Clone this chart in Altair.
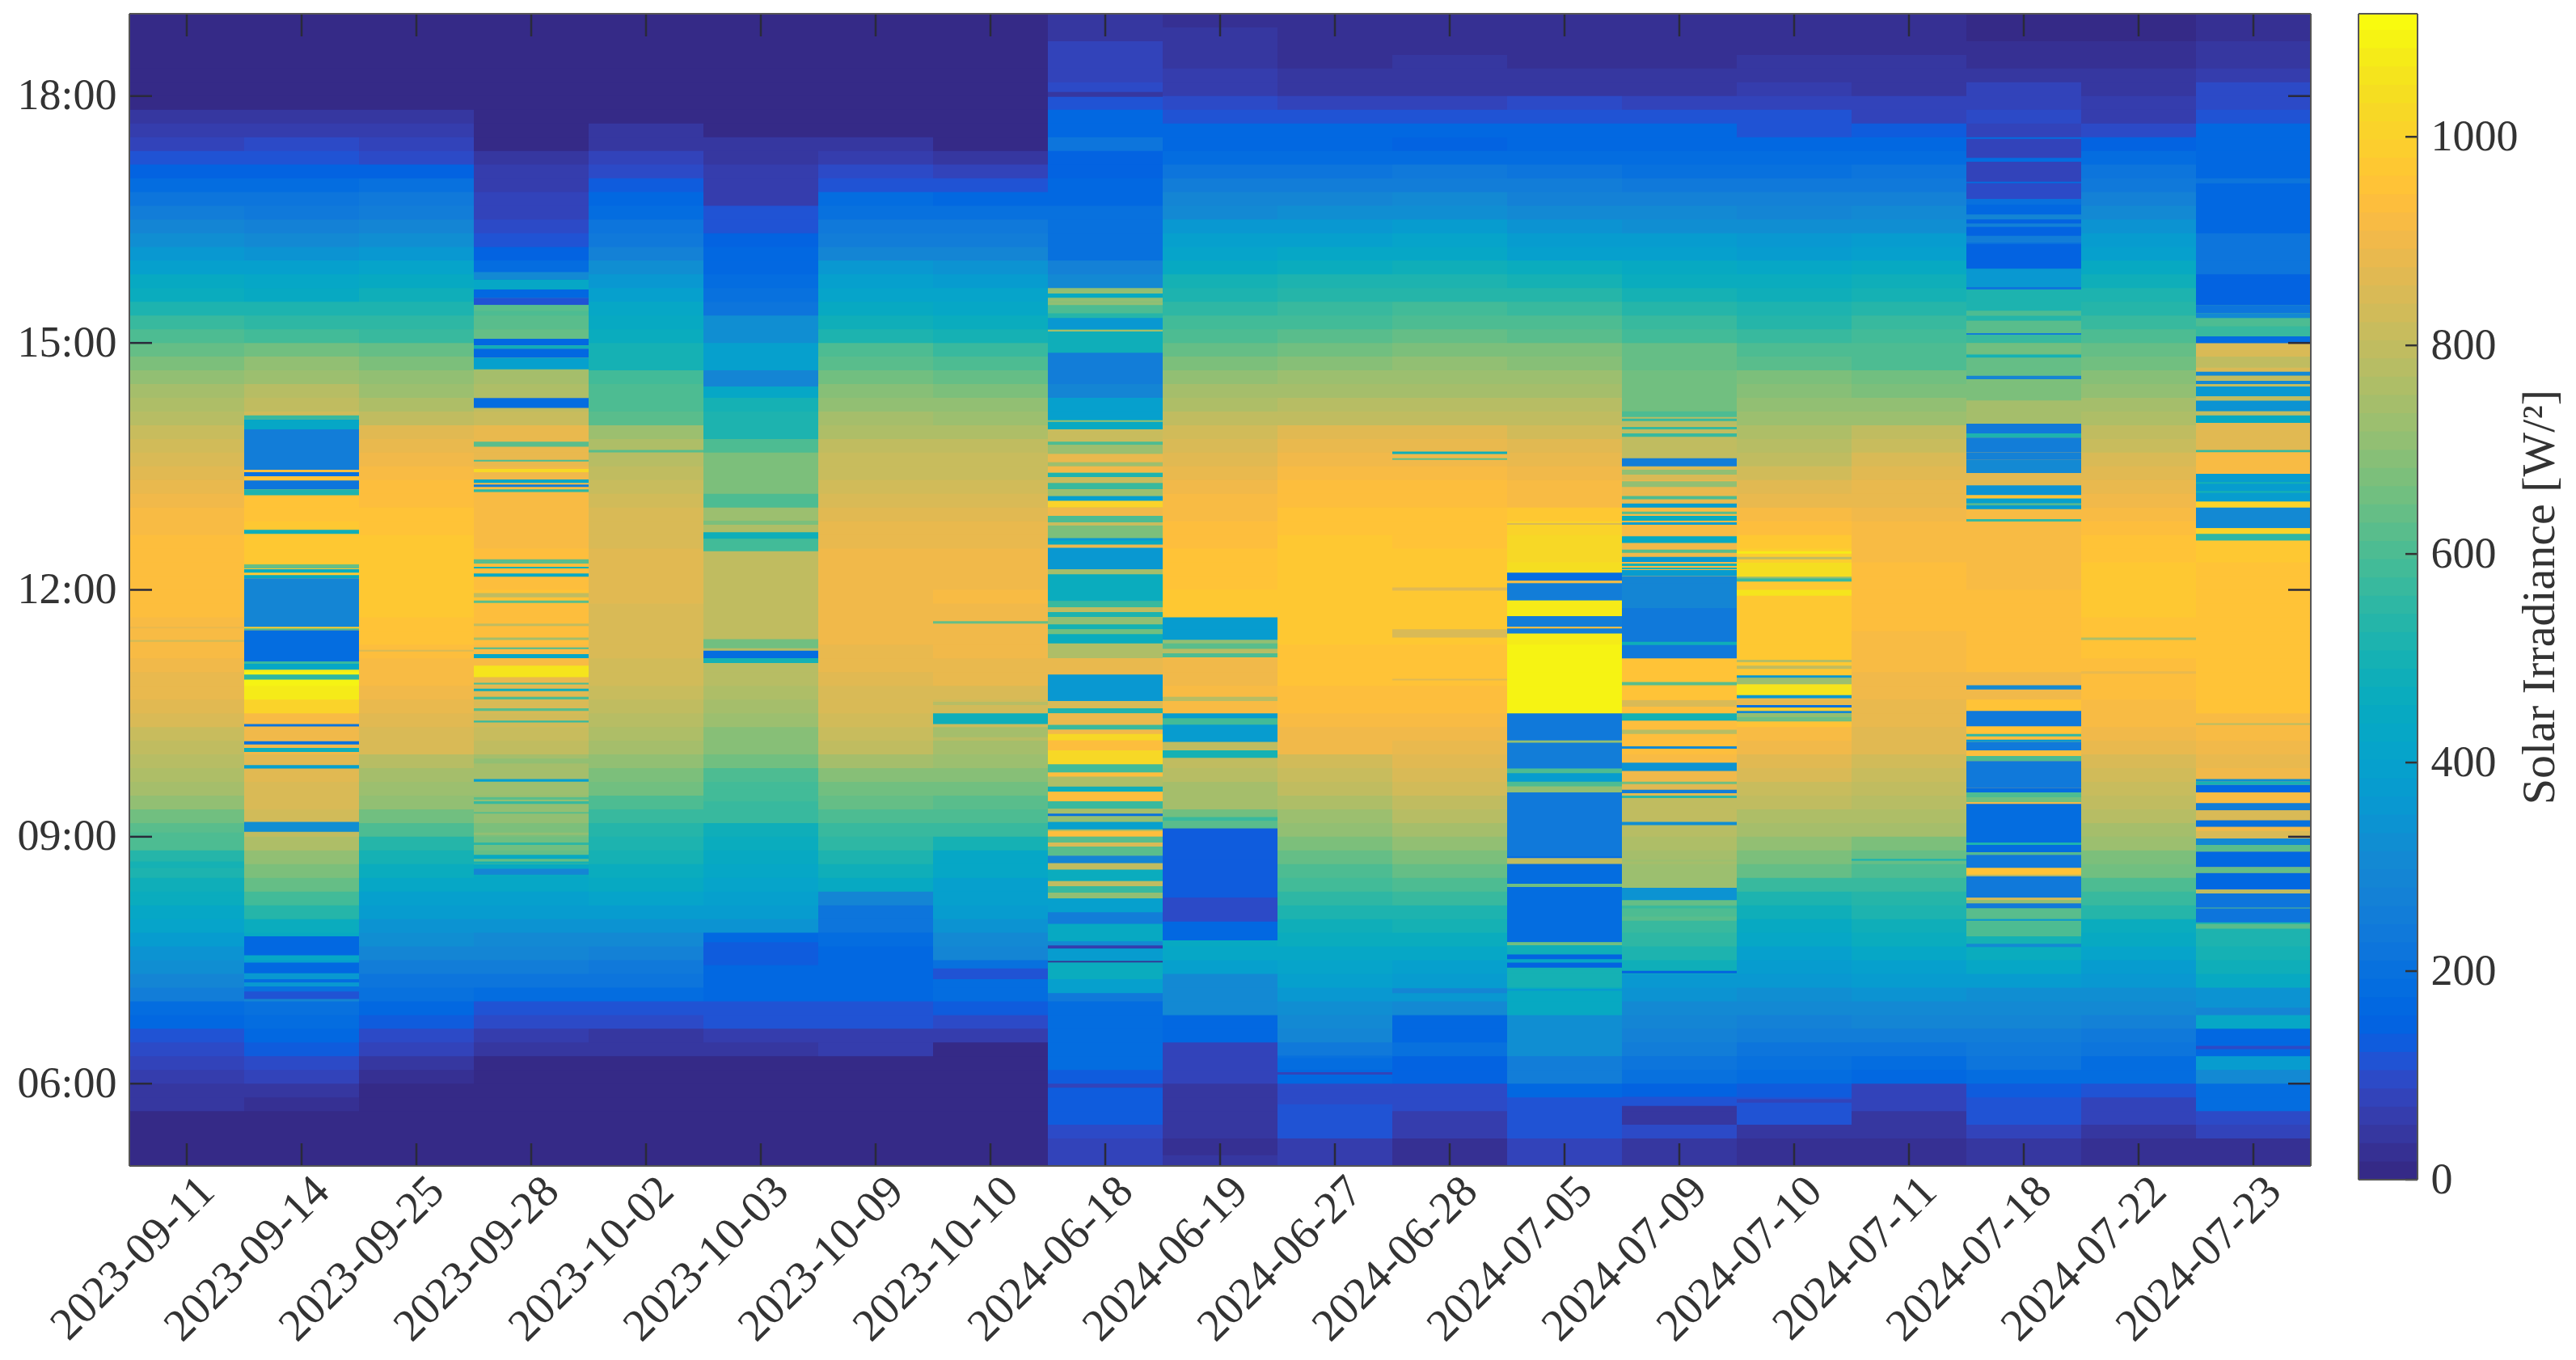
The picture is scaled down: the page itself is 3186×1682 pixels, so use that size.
import altair as alt
import pandas as pd

DATES = ["2023-09-11","2023-09-14","2023-09-25","2023-09-28","2023-10-02","2023-10-03","2023-10-09","2023-10-10",
         "2024-06-18","2024-06-19","2024-06-27","2024-06-28","2024-07-05","2024-07-09","2024-07-10","2024-07-11",
         "2024-07-18","2024-07-22","2024-07-23"]

PARULA = [(0.2081,0.1663,0.5292),(0.2116,0.1898,0.5777),(0.2123,0.2138,0.6270),(0.2081,0.2386,0.6771),(0.1959,0.2645,0.7279),(0.1707,0.2919,0.7792),(0.1253,0.3242,0.8303),(0.0591,0.3598,0.8683),
(0.0117,0.3875,0.8820),(0.0060,0.4086,0.8828),(0.0165,0.4266,0.8786),(0.0329,0.4430,0.8720),(0.0498,0.4586,0.8641),(0.0629,0.4737,0.8554),(0.0723,0.4887,0.8467),(0.0779,0.5040,0.8384),
(0.0793,0.5200,0.8312),(0.0749,0.5375,0.8263),(0.0641,0.5570,0.8240),(0.0488,0.5772,0.8228),(0.0343,0.5966,0.8199),(0.0265,0.6137,0.8135),(0.0239,0.6287,0.8038),(0.0231,0.6418,0.7913),
(0.0228,0.6535,0.7768),(0.0267,0.6642,0.7607),(0.0384,0.6743,0.7436),(0.0590,0.6838,0.7254),(0.0843,0.6928,0.7062),(0.1133,0.7015,0.6859),(0.1453,0.7098,0.6646),(0.1801,0.7177,0.6424),
(0.2178,0.7250,0.6193),(0.2586,0.7317,0.5954),(0.3022,0.7376,0.5712),(0.3482,0.7424,0.5473),(0.3953,0.7459,0.5244),(0.4420,0.7481,0.5033),(0.4871,0.7491,0.4840),(0.5300,0.7491,0.4661),
(0.5709,0.7485,0.4494),(0.6099,0.7473,0.4337),(0.6473,0.7456,0.4188),(0.6834,0.7435,0.4044),(0.7184,0.7411,0.3905),(0.7525,0.7384,0.3768),(0.7858,0.7356,0.3633),(0.8185,0.7327,0.3498),
(0.8507,0.7299,0.3360),(0.8824,0.7274,0.3217),(0.9139,0.7258,0.3063),(0.9450,0.7261,0.2886),(0.9739,0.7314,0.2666),(0.9938,0.7455,0.2403),(0.9990,0.7653,0.2164),(0.9955,0.7861,0.1967),
(0.9880,0.8066,0.1794),(0.9789,0.8271,0.1633),(0.9697,0.8481,0.1475),(0.9626,0.8705,0.1309),(0.9589,0.8949,0.1132),(0.9598,0.9218,0.0948),(0.9661,0.9514,0.0755),(0.9763,0.9831,0.0538)]
PAL = ["#%02x%02x%02x" % tuple(round(c * 255) for c in rgb) for rgb in PARULA]

# ten-minute readings, one inner list per hour from 05:00 to 18:00
c00 = [[15,15,15,15,40,50],[60,70,90,120,160,190],[250,285,315,345,380,410],[435,460,480,510,530,600],[625,660,710,740,760,775],[790,820,840,860,880,890],[900,910,918,925,928,930],[935,940,935,930,925,910],[895,885,870,855,835,810],[785,760,735,705,680,640],[600,565,520,470,440,400],[360,320,280,250,225,190],[150,105,85,65,45,15],[15,15,15,15,15,15]]
c01 = [[15,15,15,15,30,45],[75,100,130,160,175,200],[280,350,385,420,450,470],[530,590,630,680,710,760],[790,830,845,855,860,870],[895,900,918,1000,1080,1100],[1080,1045,1000,985,975,970],[970,970,975,970,965,960],[950,945,935,928,915,895],[830,800,770,730,700,650],[590,550,510,450,420,390],[340,300,270,240,215,190],[140,115,90,65,35,15],[15,15,15,15,15,15]]
c02 = [[15,15,15,15,15,15],[20,50,75,100,125,165],[195,225,250,290,315,345],[375,400,430,460,490,540],[600,650,700,730,750,780],[840,855,870,890,898,915],[925,940,952,960,965,970],[970,970,968,965,958,952],[940,928,918,898,885,865],[790,765,730,700,670,630],[570,545,510,475,440,410],[350,320,290,260,235,200],[140,90,75,55,40,15],[15,15,15,15,15,15]]
c03 = [[15,15,15,15,15,15],[15,15,40,65,90,120],[190,215,250,280,310,345],[370,395,420,445,640,660],[680,700,715,730,740,750],[790,810,830,850,870,890],[918,925,930,935,940,945],[940,930,928,918,915,918],[918,910,898,890,880,880],[820,790,760,740,720,700],[640,620,600,520,190,190],[150,120,90,80,70,65],[60,45,15,15,15,15],[15,15,15,15,15,15]]
c04 = [[15,15,15,15,15,15],[15,15,40,45,100,105],[190,210,235,270,300,335],[370,410,440,465,490,510],[540,570,610,650,680,700],[740,760,780,800,815,825],[835,845,850,855,855,860],[860,860,860,855,850,845],[830,815,800,785,760,730],[620,610,600,590,500,490],[460,450,430,400,360,330],[270,240,210,190,170,125],[90,75,50,40,15,15],[15,15,15,15,15,15]]
c05 = [[15,15,15,15,15,15],[15,15,50,60,110,120],[170,170,170,160,165,340],[370,390,410,430,450,470],[480,575,575,580,600,660],[690,695,720,750,760,770],[775,785,790,800,800,800],[795,795,790,600,760,720],[600,680,680,680,600,520],[510,500,430,280,400,390],[320,320,210,200,190,170],[170,150,120,120,65,60],[60,50,40,15,15,15],[15,15,15,15,15,15]]
c06 = [[15,15,15,15,15,15],[15,15,60,60,120,120],[170,170,170,170,175,220],[225,280,450,480,520,555],[575,600,630,660,690,740],[790,805,825,840,855,870],[885,890,895,898,900,900],[898,895,895,885,875,865],[845,835,820,805,790,765],[735,715,685,660,625,600],[510,480,450,415,385,350],[290,260,230,200,175,115],[90,60,40,15,15,15],[15,15,15,15,15,15]]
c07 = [[15,15,15,15,15,15],[15,15,15,60,100,130],[180,180,200,290,310,340],[370,385,400,420,420,490],[570,600,625,650,690,720],[750,780,810,830,850,880],[890,895,898,900,905,910],[905,898,895,890,880,870],[845,835,820,805,790,760],[725,700,670,640,610,560],[490,465,435,410,380,340],[280,260,235,195,170,115],[70,40,15,15,15,15],[15,15,15,15,15,15]]
c08 = [[70,70,100,130,130,130],[130,180,180,180,180,180],[230,400,470,380,380,440],[250,400,680,800,800,850],[750,750,750,918,925,925],[985,925,895,880,880,850],[850,760,470,650,700,800],[460,750,360,360,880,670],[800,895,720,820,720,820],[440,400,280,260,260,480],[480,350,600,700,300,270],[200,200,200,200,170,170],[140,140,220,170,170,105],[95,75,75,70,50,45]]
c09 = [[50,25,40,40,40,40],[75,75,75,165,165,300],[300,300,400,420,450,170],[100,100,125,125,125,130],[130,650,740,750,770,790],[800,380,380,918,918,895],[895,910,700,370,965,965],[950,945,945,935,930,925],[915,900,890,870,850,830],[790,765,735,700,670,640],[610,585,550,520,490,450],[410,385,350,310,285,260],[220,190,165,160,110,90],[60,60,45,45,45,30]]
c10 = [[60,60,120,120,120,90],[170,190,240,280,310,330],[350,400,410,430,460,480],[520,550,580,610,640,670],[700,730,760,790,810,830],[895,900,918,930,940,950],[958,962,965,968,970,970],[970,970,968,965,960,952],[935,928,915,900,890,870],[790,770,745,720,690,660],[620,590,565,535,510,470],[420,400,360,320,290,255],[220,180,170,165,105,85],[45,45,30,30,30,30]]
c11 = [[30,30,55,65,100,100],[150,150,200,165,165,310],[350,370,400,430,460,490],[520,570,610,640,680,710],[740,770,800,830,850,870],[890,900,915,928,940,952],[958,960,965,970,970,970],[970,970,965,962,960,952],[935,928,915,898,880,860],[800,780,750,725,700,675],[630,610,580,540,510,480],[420,410,370,330,300,260],[230,190,150,160,105,80],[45,45,45,30,30,30]]
c12 = [[80,80,105,105,105,170],[260,260,320,330,330,440],[440,500,500,400,480,190],[190,190,190,190,190,230],[230,230,230,700,380,260],[260,230,230,1090,1090,1090],[1085,1085,1075,1065,1055,1060],[1050,1035,1025,1015,1000,965],[925,910,895,880,860,830],[800,770,745,720,695,665],[620,600,560,535,500,470],[400,375,340,305,275,250],[215,185,160,160,105,90],[50,45,30,30,30,25]]
c13 = [[40,50,90,50,50,150],[205,225,250,270,290,310],[340,360,480,520,550,570],[600,630,720,730,740,760],[780,790,800,860,895,910],[930,930,930,940,950,950],[950,240,240,230,230,230],[280,895,895,895,910,910],[880,880,850,800,790,790],[780,650,650,650,640,630],[580,560,530,500,470,440],[400,370,330,300,270,240],[205,185,170,170,105,85],[50,45,30,30,30,25]]
c14 = [[25,25,50,115,115,130],[180,205,225,250,275,300],[330,350,380,400,425,450],[480,520,570,640,670,710],[740,765,790,820,850,870],[895,918,950,965,965,968],[970,970,970,970,970,970],[975,985,985,965,940,918],[880,865,835,800,780,760],[730,710,690,670,620,610],[570,540,510,480,460,420],[380,360,320,290,265,235],[200,180,170,120,110,85],[55,50,50,30,30,25]]
c15 = [[30,30,50,50,70,70],[160,190,215,260,280,310],[345,370,395,425,465,480],[510,540,570,610,640,680],[740,755,770,790,810,830],[860,870,880,890,895,900],[910,918,925,930,930,930],[930,928,925,918,910,900],[890,880,860,840,820,800],[730,710,680,650,610,600],[580,560,530,500,480,440],[390,370,330,300,270,240],[220,190,170,130,85,85],[50,50,50,30,30,25]]
c16 = [[40,45,75,110,110,130],[190,210,230,260,280,300],[330,370,430,470,490,620],[610,700,700,800,850,850],[895,895,895,895,930,930],[940,930,930,950,895,895],[930,930,930,930,930,930],[925,925,920,918,915,910],[960,910,860,860,860,750],[750,750,680,680,660,640],[620,620,600,540,520,350],[200,200,200,200,180,90],[70,70,180,70,95,75],[75,50,30,30,15,15]]
c17 = [[25,25,45,70,70,110],[175,190,220,240,270,300],[330,355,380,410,440,470],[530,570,610,650,680,720],[750,770,790,810,830,845],[880,895,910,925,930,930],[930,945,955,962,968,970],[970,965,960,952,940,918],[895,880,860,840,820,800],[760,740,710,690,660,630],[600,570,540,510,480,450],[400,380,340,300,270,240],[210,180,150,90,65,65],[40,40,25,25,15,15]]
c18 = [[30,30,75,100,190,190],[300,370,165,165,430,280],[340,440,480,500,510,510],[620,700,800,850,850,850],[895,895,910,850,895,880],[895,910,925,955,960,960],[960,960,960,960,960,960],[960,962,965,965,985,910],[1000,910,910,910,910,870],[870,800,800,800,800,840],[175,560,600,250,150,220],[220,220,170,165,165,165],[170,170,170,170,110,100],[90,55,35,35,20,20]]

# narrower stripes: (later time, earlier time, irradiance)
b00 = [(11.39,11.37,830),(11.55,11.53,880),(9.05,9.0,600),(8.7,8.62,500),(8.33,8.29,470)]
b01 = [(14.12,14.07,560),(14.07,13.95,430),(13.95,13.46,250),(13.43,13.38,200),(13.38,13.33,960),(13.33,13.22,220),(13.22,13.15,520),(12.73,12.68,480),(12.31,12.26,640),(12.25,12.21,470),(12.18,12.14,450),(12.14,11.78,280),(11.78,11.55,290),(11.53,11.51,600),(11.51,11.13,185),(11.13,11.10,570),(11.10,11.03,420),(10.97,10.91,550),(10.37,10.34,220),(10.16,10.12,200),(10.08,10.03,480),(9.87,9.83,400),(9.18,9.06,330),(7.79,7.56,170),(7.47,7.34,170),(7.27,7.23,180),(7.18,7.11,200),(7.12,7.03,120)]
b02 = [(11.27,11.25,850)]
b03 = [(15.86,15.77,300),(15.77,15.65,430),(15.65,15.55,170),(15.55,15.46,110),(15.46,15.39,620),(15.05,14.97,170),(14.97,14.93,480),(14.93,14.82,170),(14.82,14.68,400),(14.33,14.21,190),(13.8,13.74,620),(13.58,13.56,600),(13.47,13.43,1020),(13.34,13.3,430),(13.28,13.25,250),(13.22,13.19,550),(12.37,12.32,620),(12.28,12.26,500),(12.2,12.16,450),(11.96,11.91,800),(11.87,11.84,620),(11.59,11.56,800),(11.42,11.39,750),(11.3,11.28,600),(11.22,11.17,420),(11.08,10.94,1050),(10.87,10.85,600),(10.8,10.77,480),(10.7,10.67,600),(10.56,10.53,620),(10.41,10.39,560),(9.95,9.89,700),(9.7,9.67,400),(9.48,9.45,620),(9.43,9.4,560),(9.3,9.28,620),(9.05,9.02,700),(8.93,8.9,550),(8.78,8.73,450),(8.7,8.67,500),(8.61,8.54,280)]
b04 = [(13.7,13.67,620)]
b05 = [(12.84,12.79,680),(12.7,12.62,480),(12.62,12.47,590),(11.4,11.29,650),(11.26,11.17,180),(11.17,11.11,500),(14.57,14.47,280),(9.57,9.43,580),(7.72,7.44,130)]
b06 = []
b07 = [(11.62,11.59,640),(10.64,10.6,780),(10.5,10.37,480),(10.33,10.21,750),(7.4,7.27,120)]
b08 = [(15.6,15.55,450),(15.5,15.46,700),(15.36,15.3,540),(15.3,15.18,350),(15.16,15.14,750),(15.1,14.9,480),(14.88,14.5,260),(14.17,14.07,400),(14.06,14.04,700),(14.02,13.95,440),(13.95,13.8,820),(13.8,13.76,600),(13.76,13.65,720),(13.65,13.55,880),(13.55,13.5,720),(13.5,13.43,900),(13.42,13.37,520),(13.37,13.3,820),(13.3,13.22,560),(13.22,13.14,720),(13.14,13.08,400),(13.08,13.0,1000),(13.0,12.9,900),(12.9,12.82,600),(12.82,12.78,820),(12.78,12.63,670),(12.6,12.55,440),(12.55,12.51,880),(12.5,12.25,360),(12.25,12.19,750),(12.19,11.86,460),(11.86,11.79,560),(11.79,11.73,800),(11.73,11.67,520),(11.67,11.58,700),(11.58,11.52,500),(11.52,11.46,650),(11.46,11.36,470),(11.35,11.17,760),(11.17,10.97,880),(10.97,10.65,350),(10.65,10.56,850),(10.56,10.5,520),(10.5,10.36,880),(10.36,10.3,560),(10.3,10.25,900),(10.25,10.17,1030),(10.17,10.05,940),(10.05,9.88,1020),(9.88,9.78,580),(9.78,9.73,940),(9.73,9.61,760),(9.61,9.55,480),(9.55,9.43,930),(9.43,9.34,560),(9.34,9.28,750),(9.28,9.25,200),(9.25,9.18,700),(9.18,9.09,400),(9.07,9.0,930),(9.0,8.93,620),(8.93,8.88,850),(8.88,8.77,620),(8.77,8.68,280),(8.67,8.6,800),(8.6,8.46,470),(8.46,8.4,800),(8.4,8.32,560),(8.32,8.25,700),(8.25,8.08,400),(8.08,7.94,250),(7.94,7.73,440),(7.73,7.68,300),(7.68,7.64,60),(7.64,7.49,380),(7.49,7.47,30),(7.47,7.27,470),(7.27,7.1,400),(6.0,5.95,80),(18.05,17.99,50)]
b09 = [(11.52,11.39,370),(11.39,11.35,700),(11.35,11.28,620),(11.28,11.23,780),(11.23,11.18,600),(10.7,10.65,780),(10.44,10.36,580),(10.36,10.15,380),(10.15,10.05,800),(10.05,9.96,500),(9.24,9.19,570),(9.19,9.1,620),(9.1,8.72,130),(8.72,8.26,125),(8.26,7.97,100),(7.94,7.74,170),(5.26,5.13,25)]
b10 = [(6.34,6.31,200),(6.14,6.11,70),(5.93,5.75,90)]
b11 = [(13.68,13.65,480),(13.6,13.58,640),(12.03,11.99,860),(11.52,11.42,850),(10.92,10.9,860),(7.16,7.1,290)]
b12 = [(12.81,12.79,840),(12.21,12.11,190),(12.11,12.08,900),(12.08,11.87,250),(11.87,11.68,1080),(11.68,11.55,250),(11.55,11.53,900),(11.53,11.47,250),(10.47,10.17,230),(10.17,10.14,700),(10.14,9.83,260),(9.83,9.77,600),(9.77,9.67,380),(9.67,9.61,600),(9.61,9.54,700),(9.54,8.76,230),(8.74,8.67,800),(8.65,8.43,190),(8.43,8.39,650),(8.38,7.72,190),(7.72,7.68,650),(7.68,7.57,480),(7.57,7.51,150),(7.51,7.47,420),(7.47,7.41,150),(7.15,7.13,350)]
b13 = [(14.17,14.1,600),(14.08,14.05,560),(13.98,13.95,560),(13.9,13.86,560),(13.6,13.5,260),(13.46,13.4,700),(13.32,13.25,700),(13.14,13.1,600),(13.05,13.0,380),(12.95,12.92,620),(12.9,12.84,470),(12.82,12.79,380),(12.65,12.57,440),(12.49,12.45,620),(12.4,12.34,360),(12.32,12.29,500),(12.27,12.25,500),(12.24,12.17,370),(12.08,11.78,280),(11.78,11.38,230),(11.37,11.33,480),(11.32,11.17,240),(10.88,10.84,620),(10.66,10.58,850),(10.5,10.41,500),(10.3,10.25,780),(10.1,10.07,300),(9.9,9.8,340),(9.67,9.64,650),(9.57,9.53,250),(9.5,9.47,550),(9.18,9.14,320),(8.72,8.7,720),(8.38,8.23,340),(8.16,8.13,560),(8.03,7.98,620),(7.37,7.34,150),(5.84,5.73,110)]
b14 = [(12.47,12.44,1080),(12.4,12.37,800),(12.33,12.16,1040),(12.16,12.14,700),(12.14,12.1,560),(12.0,11.93,1050),(11.15,11.12,780),(11.08,11.04,800),(10.96,10.93,350),(10.93,10.85,720),(10.85,10.72,1050),(10.72,10.68,350),(10.68,10.6,880),(10.6,10.57,200),(10.57,10.53,980),(10.53,10.5,300),(10.5,10.46,700),(10.46,10.4,650),(5.81,5.77,70)]
b15 = [(8.73,8.71,520)]
b16 = [(17.48,17.25,70),(17.25,17.2,180),(17.2,16.96,70),(16.96,16.94,180),(16.94,16.75,90),(16.75,16.68,200),(16.68,16.56,170),(16.56,16.5,280),(16.5,16.45,150),(16.45,16.41,270),(16.41,16.3,140),(16.3,16.22,260),(16.2,15.9,145),(15.9,15.68,350),(15.68,15.65,210),(15.65,15.39,520),(15.39,15.33,600),(15.33,15.27,540),(15.27,15.13,620),(15.12,15.1,260),(15.1,15.0,560),(15.0,14.87,660),(14.86,14.82,500),(14.82,14.6,640),(14.6,14.56,280),(14.54,14.3,680),(14.3,14.02,750),(14.02,13.9,230),(13.9,13.85,520),(13.85,13.67,250),(13.67,13.58,270),(13.58,13.42,300),(13.42,13.27,860),(13.27,13.15,340),(13.15,13.11,960),(13.11,13.05,390),(13.05,13.03,600),(13.03,12.98,370),(12.86,12.83,560),(10.84,10.79,310),(10.53,10.34,230),(10.34,10.26,950),(10.25,10.22,550),(10.18,10.15,350),(10.15,10.05,230),(10.05,9.98,930),(9.98,9.92,600),(9.92,9.59,240),(9.59,9.54,190),(9.54,9.48,600),(9.48,9.42,650),(9.4,8.93,180),(8.93,8.9,520),(8.9,8.81,190),(8.81,8.78,600),(8.78,8.62,230),(8.62,8.54,950),(8.52,8.26,230),(8.26,8.23,850),(8.23,8.2,700),(8.19,8.13,230),(8.13,8.01,620),(8.0,7.98,350),(7.97,7.79,600),(7.7,7.66,300)]
b17 = [(11.42,11.39,760),(11.01,10.98,880)]
b18 = [(15.07,15.0,175),(14.7,14.65,840),(14.65,14.6,300),(14.6,14.54,800),(14.54,14.5,300),(14.5,14.47,800),(14.47,14.35,350),(14.35,14.3,800),(14.3,14.17,340),(14.17,14.12,800),(14.12,14.03,450),(14.02,13.7,870),(13.7,13.67,560),(13.67,13.41,910),(13.41,13.07,370),(13.31,13.29,500),(13.2,13.18,500),(13.07,13.0,1000),(13.0,12.75,300),(12.75,12.68,1010),(12.68,12.6,550),(10.38,10.36,780),(9.7,9.67,320),(9.67,9.63,500),(9.63,9.54,170),(9.54,9.41,910),(9.41,9.32,260),(9.32,9.2,850),(9.2,9.12,200),(9.12,9.07,895),(9.07,8.98,850),(8.98,8.9,300),(8.9,8.82,620),(8.82,8.63,170),(8.63,8.56,640),(8.56,8.36,170),(8.36,8.31,800),(8.31,8.14,210),(8.13,7.96,220),(7.94,7.88,620),(7.88,7.7,510),(6.46,6.42,100),(7.1,6.92,340),(6.92,6.85,280),(15.46,15.36,220),(15.36,15.3,300),(15.3,15.2,600),(15.2,15.08,560),(15.78,15.46,150),(17.0,16.94,210)]

COLS = [c00,c01,c02,c03,c04,c05,c06,c07,c08,c09,c10,c11,c12,c13,c14,c15,c16,c17,c18]
BANDS = [b00,b01,b02,b03,b04,b05,b06,b07,b08,b09,b10,b11,b12,b13,b14,b15,b16,b17,b18]
HOUR_TICKS = [6, 9, 12, 15, 18]
CB_TICKS = [0, 200, 400, 600, 800, 1000]
CB_MAX = 1118
COLOR_MAX = 1120

W, H = 2698, 1425
CB_W, CB_H = 73, 1442
TLEN, CB_TLEN = 28, 15
INK, FRAME = "#333333", "#555555"
FONT = "Liberation Serif"
FS = 54

rows = []
for date, col in zip(DATES, COLS):
    for hi, hour in enumerate(col):
        for si, v in enumerate(hour):
            t0 = 5 + hi + si / 6
            rows.append({"date": date, "t0": t0, "t1": min(19, t0 + 1 / 6 + 0.012), "v": v})
for date, bands in zip(DATES, BANDS):
    for a, b, v in bands:
        rows.append({"date": date, "t0": min(a, b), "t1": max(a, b), "v": v})
df = pd.DataFrame(rows)

xenc = alt.X("date:N", sort=DATES, title=None,
             scale=alt.Scale(domain=DATES, paddingInner=0, paddingOuter=0),
             axis=alt.Axis(labelAngle=315, labelAlign="right", labelBaseline="middle", labelFontSize=56,
                           labelFont=FONT, labelColor=INK, tickSize=0, domain=False, grid=False, labelLimit=0,
                           labelPadding=22, labelOverlap=False, labelBound=False, labelOffset=25))
yenc = alt.Y("t0:Q", title=None,
             scale=alt.Scale(domain=[5, 19], nice=False, zero=False),
             axis=alt.Axis(values=HOUR_TICKS, labelExpr="(datum.value < 10 ? '0' : '') + datum.value + ':00'",
                           labelFontSize=FS, labelFont=FONT, labelColor=INK, tickSize=0, domain=False, grid=False,
                           labelPadding=16, labelOverlap=False, labelBound=False))

heat = alt.Chart(df).mark_rect(strokeWidth=0).encode(
    x=xenc, y=yenc, y2="t1:Q",
    color=alt.Color("v:Q", legend=None, scale=alt.Scale(type="quantize", domain=[0, COLOR_MAX], range=PAL)))

xt = pd.DataFrame({"date": DATES})
yt = pd.DataFrame({"t0": HOUR_TICKS})
tick = dict(color="#2a2a3a", strokeWidth=2.5)
x_bot = alt.Chart(xt).mark_rule(**tick).encode(x=xenc, y=alt.value(H - TLEN), y2=alt.value(H))
x_top = alt.Chart(xt).mark_rule(**tick).encode(x=xenc, y=alt.value(0), y2=alt.value(TLEN))
y_l = alt.Chart(yt).mark_rule(**tick).encode(y=yenc, x=alt.value(0), x2=alt.value(TLEN))
y_r = alt.Chart(yt).mark_rule(**tick).encode(y=yenc, x=alt.value(W - TLEN), x2=alt.value(W))

def frame(w, h):
    s = dict(color=FRAME, strokeWidth=2)
    return [
        alt.Chart(xt).mark_rule(**s).encode(x=alt.value(0), x2=alt.value(w), y=alt.value(0)),
        alt.Chart(xt).mark_rule(**s).encode(x=alt.value(0), x2=alt.value(w), y=alt.value(h)),
        alt.Chart(xt).mark_rule(**s).encode(x=alt.value(0), y=alt.value(0), y2=alt.value(h)),
        alt.Chart(xt).mark_rule(**s).encode(x=alt.value(w), y=alt.value(0), y2=alt.value(h)),
    ]

main = alt.layer(heat, x_bot, x_top, y_l, y_r, *frame(W, H)).properties(width=W, height=H)

n = len(PAL)
cb = pd.DataFrame({"v0": [i * COLOR_MAX / n for i in range(n)],
                   "v1": [min(CB_MAX, (i + 1) * COLOR_MAX / n + 1.5) for i in range(n)],
                   "c": PAL})
cbt = pd.DataFrame({"v0": CB_TICKS})
cby = alt.Y("v0:Q", title="Solar Irradiance [W/²]",
            scale=alt.Scale(domain=[0, CB_MAX], nice=False, zero=False),
            axis=alt.Axis(orient="right", values=CB_TICKS, format="d", labelFontSize=FS, labelFont=FONT, labelColor=INK,
                          tickSize=0, domain=False, grid=False, labelPadding=16, labelOverlap=False, labelBound=False,
                          titleFont=FONT, titleFontSize=58, titleFontWeight="normal", titleColor=INK,
                          titleAngle=270, titlePadding=56))
cb_rect = alt.Chart(cb).mark_rect(strokeWidth=0).encode(
    x=alt.value(0), x2=alt.value(CB_W), y=cby, y2="v1:Q", color=alt.Color("c:N", scale=None, legend=None))
cb_tick = alt.Chart(cbt).mark_rule(color="#333333", strokeWidth=2.5).encode(
    y=cby, x=alt.value(CB_W - CB_TLEN), x2=alt.value(CB_W))
bar = alt.layer(cb_rect, cb_tick, *frame(CB_W, CB_H)).properties(width=CB_W, height=CB_H)

chart = alt.hconcat(main, bar, spacing=56, padding={"left": 12, "top": 7, "right": 5, "bottom": 5}, background="white")
chart = chart.configure_view(stroke=None)
chart.save("out.html", embed_options={"renderer": "svg", "actions": False})
